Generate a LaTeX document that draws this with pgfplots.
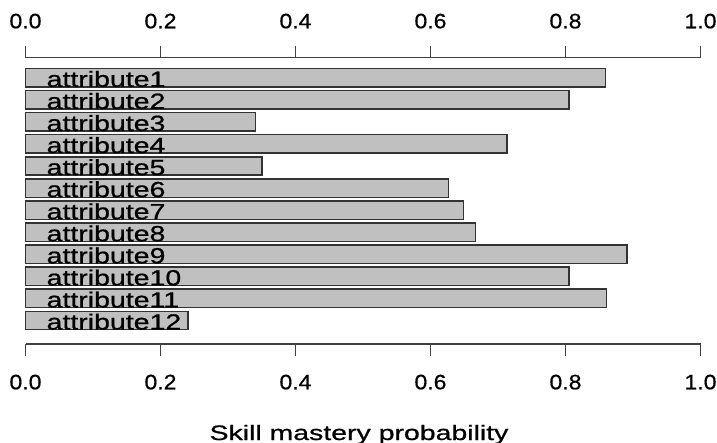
\documentclass[border=0pt]{standalone}
\usepackage{fontspec}
\setmainfont{Liberation Sans}
\newfontfamily\tickfont[FakeStretch=1.1,FakeBold=0.6]{Liberation Sans}
\newfontfamily\attrfont[FakeStretch=1.3,FakeBold=0.8]{Liberation Sans}
\newfontfamily\labfont[FakeStretch=1.36,FakeBold=0.8]{Liberation Sans}
\usepackage{pgfplots}
\pgfplotsset{compat=1.18}
\definecolor{barfill}{HTML}{C0C0C0}
\definecolor{barline}{HTML}{333333}
\definecolor{axline}{HTML}{404040}
\pgfplotstableread{
idx val
1 0.859
2 0.805
3 0.341
4 0.713
5 0.350
6 0.627
7 0.649
8 0.667
9 0.891
10 0.805
11 0.861
12 0.241
}\skilldata
\pgfplotsset{
  common/.style={
    at={(25.5bp,-57.5bp)}, anchor=north west,
    scale only axis, width=675bp, height=286.5bp,
    xmin=0, xmax=1,
    xtick={0,0.2,0.4,0.6,0.8,1},
    tick align=outside,
    major tick length=11.6bp,
    every tick/.style={axline, line width=1.4bp},
    axis line style={axline, line width=1.4bp},
    /pgf/number format/assume math mode=true,
    xticklabel={\pgfmathprintnumber[fixed,fixed zerofill,precision=1]{\tick}},
    xticklabel style={font=\tickfont\fontsize{21}{21}\selectfont, inner sep=0pt},
  }
}
\begin{document}
\begin{tikzpicture}
\path[use as bounding box] (0bp,0bp) rectangle (717bp,-443bp);
\begin{axis}[common,
  ymin=0.085, ymax=13.066, y dir=reverse,
  axis x line*=bottom, axis y line=none,
  ytick=\empty,
  xticklabel style={anchor=base, yshift=-33.7bp},
  clip=false,
]
\addplot[xbar, bar width=0.834, fill=barfill, draw=barline, line width=1.5bp]
  table[x=val, y=idx] {\skilldata};
\pgfplotsinvokeforeach{1,...,12}{
  \node[anchor=base west, inner sep=0pt, text=black,
        font=\attrfont\fontsize{22}{22}\selectfont]
        at (axis cs:0.031,#1+0.41) {attribute#1};
}
\end{axis}
\begin{axis}[common,
  ymin=0, ymax=1,
  axis x line*=top, axis y line=none,
  ytick=\empty,
  xticklabel pos=upper,
  xticklabel style={anchor=base, yshift=17.6bp},
  xlabel={Skill mastery probability},
  xlabel style={at={(axis description cs:0.5,0)}, anchor=base, yshift=-96bp, xshift=-4bp,
                font=\labfont\fontsize{21}{21}\selectfont, inner sep=0pt},
]
\end{axis}
\end{tikzpicture}
\end{document}
